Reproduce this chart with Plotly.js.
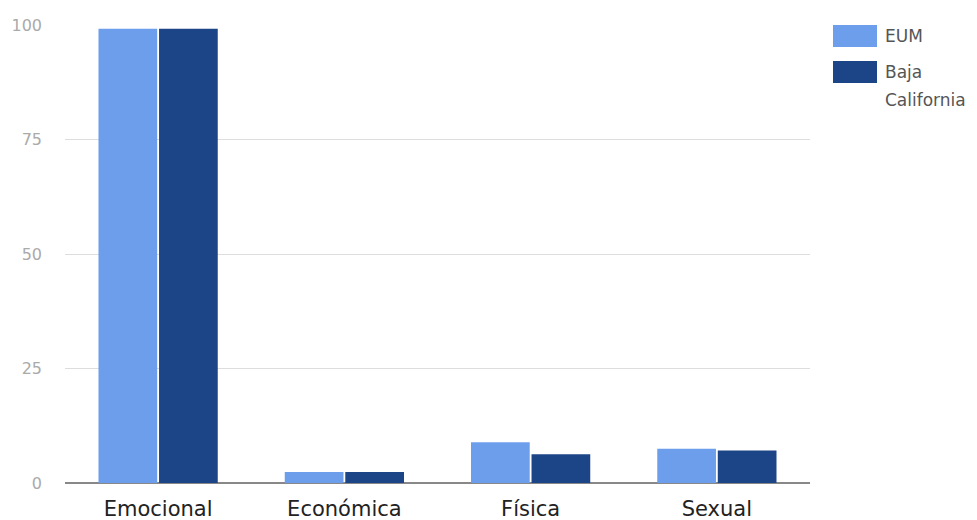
<!DOCTYPE html>
<html>
<head>
<meta charset="utf-8">
<script src="https://cdn.plot.ly/plotly-3.0.1.min.js"></script>
<style>html,body{margin:0;padding:0;background:#fff;}#chart{width:977px;height:520px;}</style>
</head>
<body>
<div id="chart"></div>
<script>
const categories = ["Emocional", "Económica", "Física", "Sexual"];
const seriesNames = ["EUM", "Baja California"];
const eumValues = [99.2, 2.4, 8.9, 7.5];
const bcValues = [99.2, 2.4, 6.3, 7.1];
const yTickVals = [0, 25, 50, 75, 100];
const colors = ["#6d9eeb", "#1c4587"];

const seriesValues = [eumValues, bcValues];
const traces = seriesNames.map((n, i) => ({
  type: "bar", x: categories, y: seriesValues[i], name: n,
  marker: {color: colors[i]}, hoverinfo: "x+y", showlegend: false
}));

// Custom legend (large swatches, wrapped labels) built from series names/colors
const shapes = [];
const annotations = [];
const swatchTops = [0, -36];      // pixel offsets from top of plot area
seriesNames.forEach((n, i) => {
  const top = swatchTops[i];
  shapes.push({
    type: "rect", xref: "paper", yref: "paper",
    xsizemode: "pixel", ysizemode: "pixel", xanchor: 1, yanchor: 1,
    x0: 23, x1: 67, y0: top, y1: top - 22,
    fillcolor: colors[i], line: {width: 0}
  });
  const words = n.split(" ");
  const lines = [];
  words.forEach(w => {
    if (lines.length && (lines[lines.length - 1] + " " + w).length <= 8) lines[lines.length - 1] += " " + w;
    else lines.push(w);
  });
  lines.forEach((ln, k) => {
    annotations.push({
      xref: "paper", yref: "paper", x: 1, y: 1,
      xshift: 73, yshift: top - 11 - k * 28,
      xanchor: "left", yanchor: "middle",
      text: ln, showarrow: false,
      font: {family: "DejaVu Sans, sans-serif", size: 17, color: "#555"}
    });
  });
});

const layout = {
  width: 977, height: 520,
  margin: {l: 65, r: 167, t: 25, b: 37},
  paper_bgcolor: "#fff", plot_bgcolor: "#fff",
  font: {family: "DejaVu Sans, sans-serif"},
  barmode: "group", bargap: 0.35, bargroupgap: 0.03,
  xaxis: {
    tickfont: {size: 21, color: "#222"},
    showgrid: false, ticks: "", showline: false,
    ticklabelstandoff: 11, automargin: false
  },
  yaxis: {
    range: [0, 100], tickvals: yTickVals, ticktext: yTickVals.map(String),
    tickfont: {size: 16, color: "#aaa"},
    gridcolor: "#dddddd", gridwidth: 1,
    zeroline: true, zerolinecolor: "#888", zerolinewidth: 1.5,
    ticks: "", showline: false, ticklabelstandoff: 22, automargin: false
  },
  shapes: shapes,
  annotations: annotations,
  showlegend: false
};

Plotly.newPlot("chart", traces, layout, {displayModeBar: false, staticPlot: true});
</script>
</body>
</html>
